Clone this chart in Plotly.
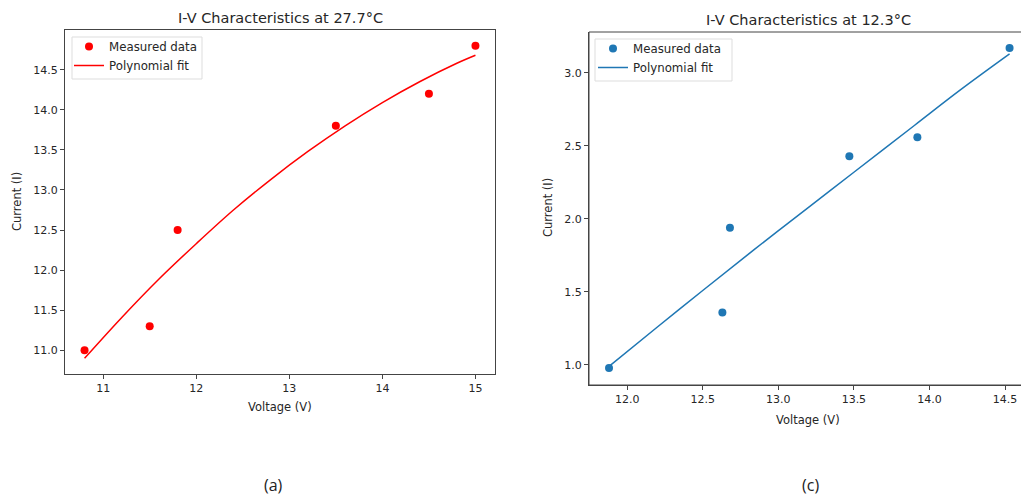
import plotly.graph_objects as go

# ---- data ----
v_a = [10.8, 11.5, 11.8, 13.5, 14.5, 15.0]
i_a = [11.0, 11.3, 12.5, 13.8, 14.2, 14.8]
fit_v_a = [10.8, 11.2, 11.6, 12.0, 12.4, 12.8, 13.2, 13.6, 14.0, 14.4, 14.8, 15.0]
fit_i_a = [10.90, 11.41, 11.89, 12.33, 12.75, 13.13, 13.48, 13.80, 14.09, 14.35, 14.58, 14.68]

v_c = [11.88, 12.63, 12.68, 13.47, 13.92, 14.53]
i_c = [0.98, 1.36, 1.94, 2.43, 2.56, 3.17]
fit_v_c = [11.88, 12.2, 12.5, 12.84, 13.2, 13.5, 13.9, 14.2, 14.53]
fit_i_c = [0.99, 1.26, 1.51, 1.79, 2.08, 2.32, 2.64, 2.88, 3.13]

xticks_a = [11, 12, 13, 14, 15]
yticks_a = [11.0, 11.5, 12.0, 12.5, 13.0, 13.5, 14.0, 14.5]
xticks_c = [12.0, 12.5, 13.0, 13.5, 14.0, 14.5]
yticks_c = [1.0, 1.5, 2.0, 2.5, 3.0]

RED = "#ff0000"
BLUE = "#1f77b4"
AX = "#444444"
TXT = "#262626"
FONT = "DejaVu Sans"

fig = go.Figure()
fig.add_trace(go.Scatter(x=v_a, y=i_a, mode="markers", name="Measured data",
                         marker=dict(color=RED, size=8), xaxis="x", yaxis="y", legend="legend"))
fig.add_trace(go.Scatter(x=fit_v_a, y=fit_i_a, mode="lines", name="Polynomial fit",
                         line=dict(color=RED, width=1.5, shape="spline"), xaxis="x", yaxis="y", legend="legend"))
fig.add_trace(go.Scatter(x=v_c, y=i_c, mode="markers", name="Measured data",
                         marker=dict(color=BLUE, size=8), xaxis="x2", yaxis="y2", legend="legend2"))
fig.add_trace(go.Scatter(x=fit_v_c, y=fit_i_c, mode="lines", name="Polynomial fit",
                         line=dict(color=BLUE, width=1.5, shape="spline"), xaxis="x2", yaxis="y2", legend="legend2"))

axcommon = dict(showline=True, linecolor=AX, linewidth=1, ticks="outside", ticklen=4,
                tickcolor=AX, showgrid=False, zeroline=False,
                tickfont=dict(family=FONT, size=11, color=TXT))

W, H = 1021, 500
fig.update_layout(
    width=W, height=H, margin=dict(l=0, r=0, t=0, b=0),
    paper_bgcolor="white", plot_bgcolor="white",
    font=dict(family=FONT, color=TXT),
    xaxis=dict(domain=[65 / W, 495 / W], range=[10.59, 15.21], tickvals=xticks_a,
               ticktext=[str(t) for t in xticks_a], mirror=True, anchor="y", **axcommon),
    yaxis=dict(domain=[1 - 374 / H, 1 - 30 / H], range=[10.705, 14.995], tickvals=yticks_a,
               ticktext=[f"{t:.1f}" for t in yticks_a], mirror=True, anchor="x", **axcommon),
    xaxis2=dict(domain=[589 / W, 1.0], range=[11.7475, 14.6057], tickvals=xticks_c,
                ticktext=[f"{t:.1f}" for t in xticks_c], anchor="y2", **axcommon),
    yaxis2=dict(domain=[1 - 385 / H, 1 - 32 / H], range=[0.863, 3.2804], tickvals=yticks_c,
                ticktext=[f"{t:.1f}" for t in yticks_c], anchor="x2", **axcommon),
    legend=dict(x=69 / W, y=1 - 32 / H, xanchor="left", yanchor="top", bgcolor="rgba(0,0,0,0)",
                borderwidth=0, font=dict(family=FONT, size=11.8, color=TXT),
                itemwidth=30, tracegroupgap=0),
    legend2=dict(x=593 / W, y=1 - 34 / H, xanchor="left", yanchor="top", bgcolor="rgba(0,0,0,0)",
                 borderwidth=0, font=dict(family=FONT, size=11.8, color=TXT),
                 itemwidth=30, tracegroupgap=0),
    showlegend=True,
)

# frame of the right panel (its right edge lies outside the picture)
fig.add_shape(type="rect", xref="paper", yref="paper", x0=589 / W, x1=1.05,
              y0=1 - 385 / H, y1=1 - 32 / H, line=dict(color=AX, width=1),
              fillcolor="rgba(0,0,0,0)", layer="above")

# legend frames
for (x0, y0, x1, y1) in [(72, 37, 202, 79), (595, 39, 732, 81)]:
    fig.add_shape(type="rect", xref="paper", yref="paper",
                  x0=x0 / W, x1=x1 / W, y0=1 - y1 / H, y1=1 - y0 / H,
                  line=dict(color="#dddddd", width=1), fillcolor="rgba(255,255,255,0.8)",
                  layer="above")

def ann(text, x, y, size, angle=0, family=FONT, color=TXT):
    fig.add_annotation(text=text, x=x / W, y=1 - y / H, xref="paper", yref="paper",
                       showarrow=False, xanchor="center", yanchor="middle",
                       textangle=angle, font=dict(family=family, size=size, color=color))

ann("I-V Characteristics at 27.7°C", 280, 18, 14.5)
ann("I-V Characteristics at 12.3°C", 808, 20, 14.5)
ann("Voltage (V)", 280, 407, 11.5)
ann("Voltage (V)", 808, 420, 11.5)
ann("Current (I)", 17, 202, 11.5, angle=-90)
ann("Current (I)", 548, 208, 11.5, angle=-90)
ann("(a)", 273, 485, 16, family="Open Sans", color="#222222")
ann("(c)", 810, 485, 16, family="Open Sans", color="#222222")

fig.write_html("out.html")
